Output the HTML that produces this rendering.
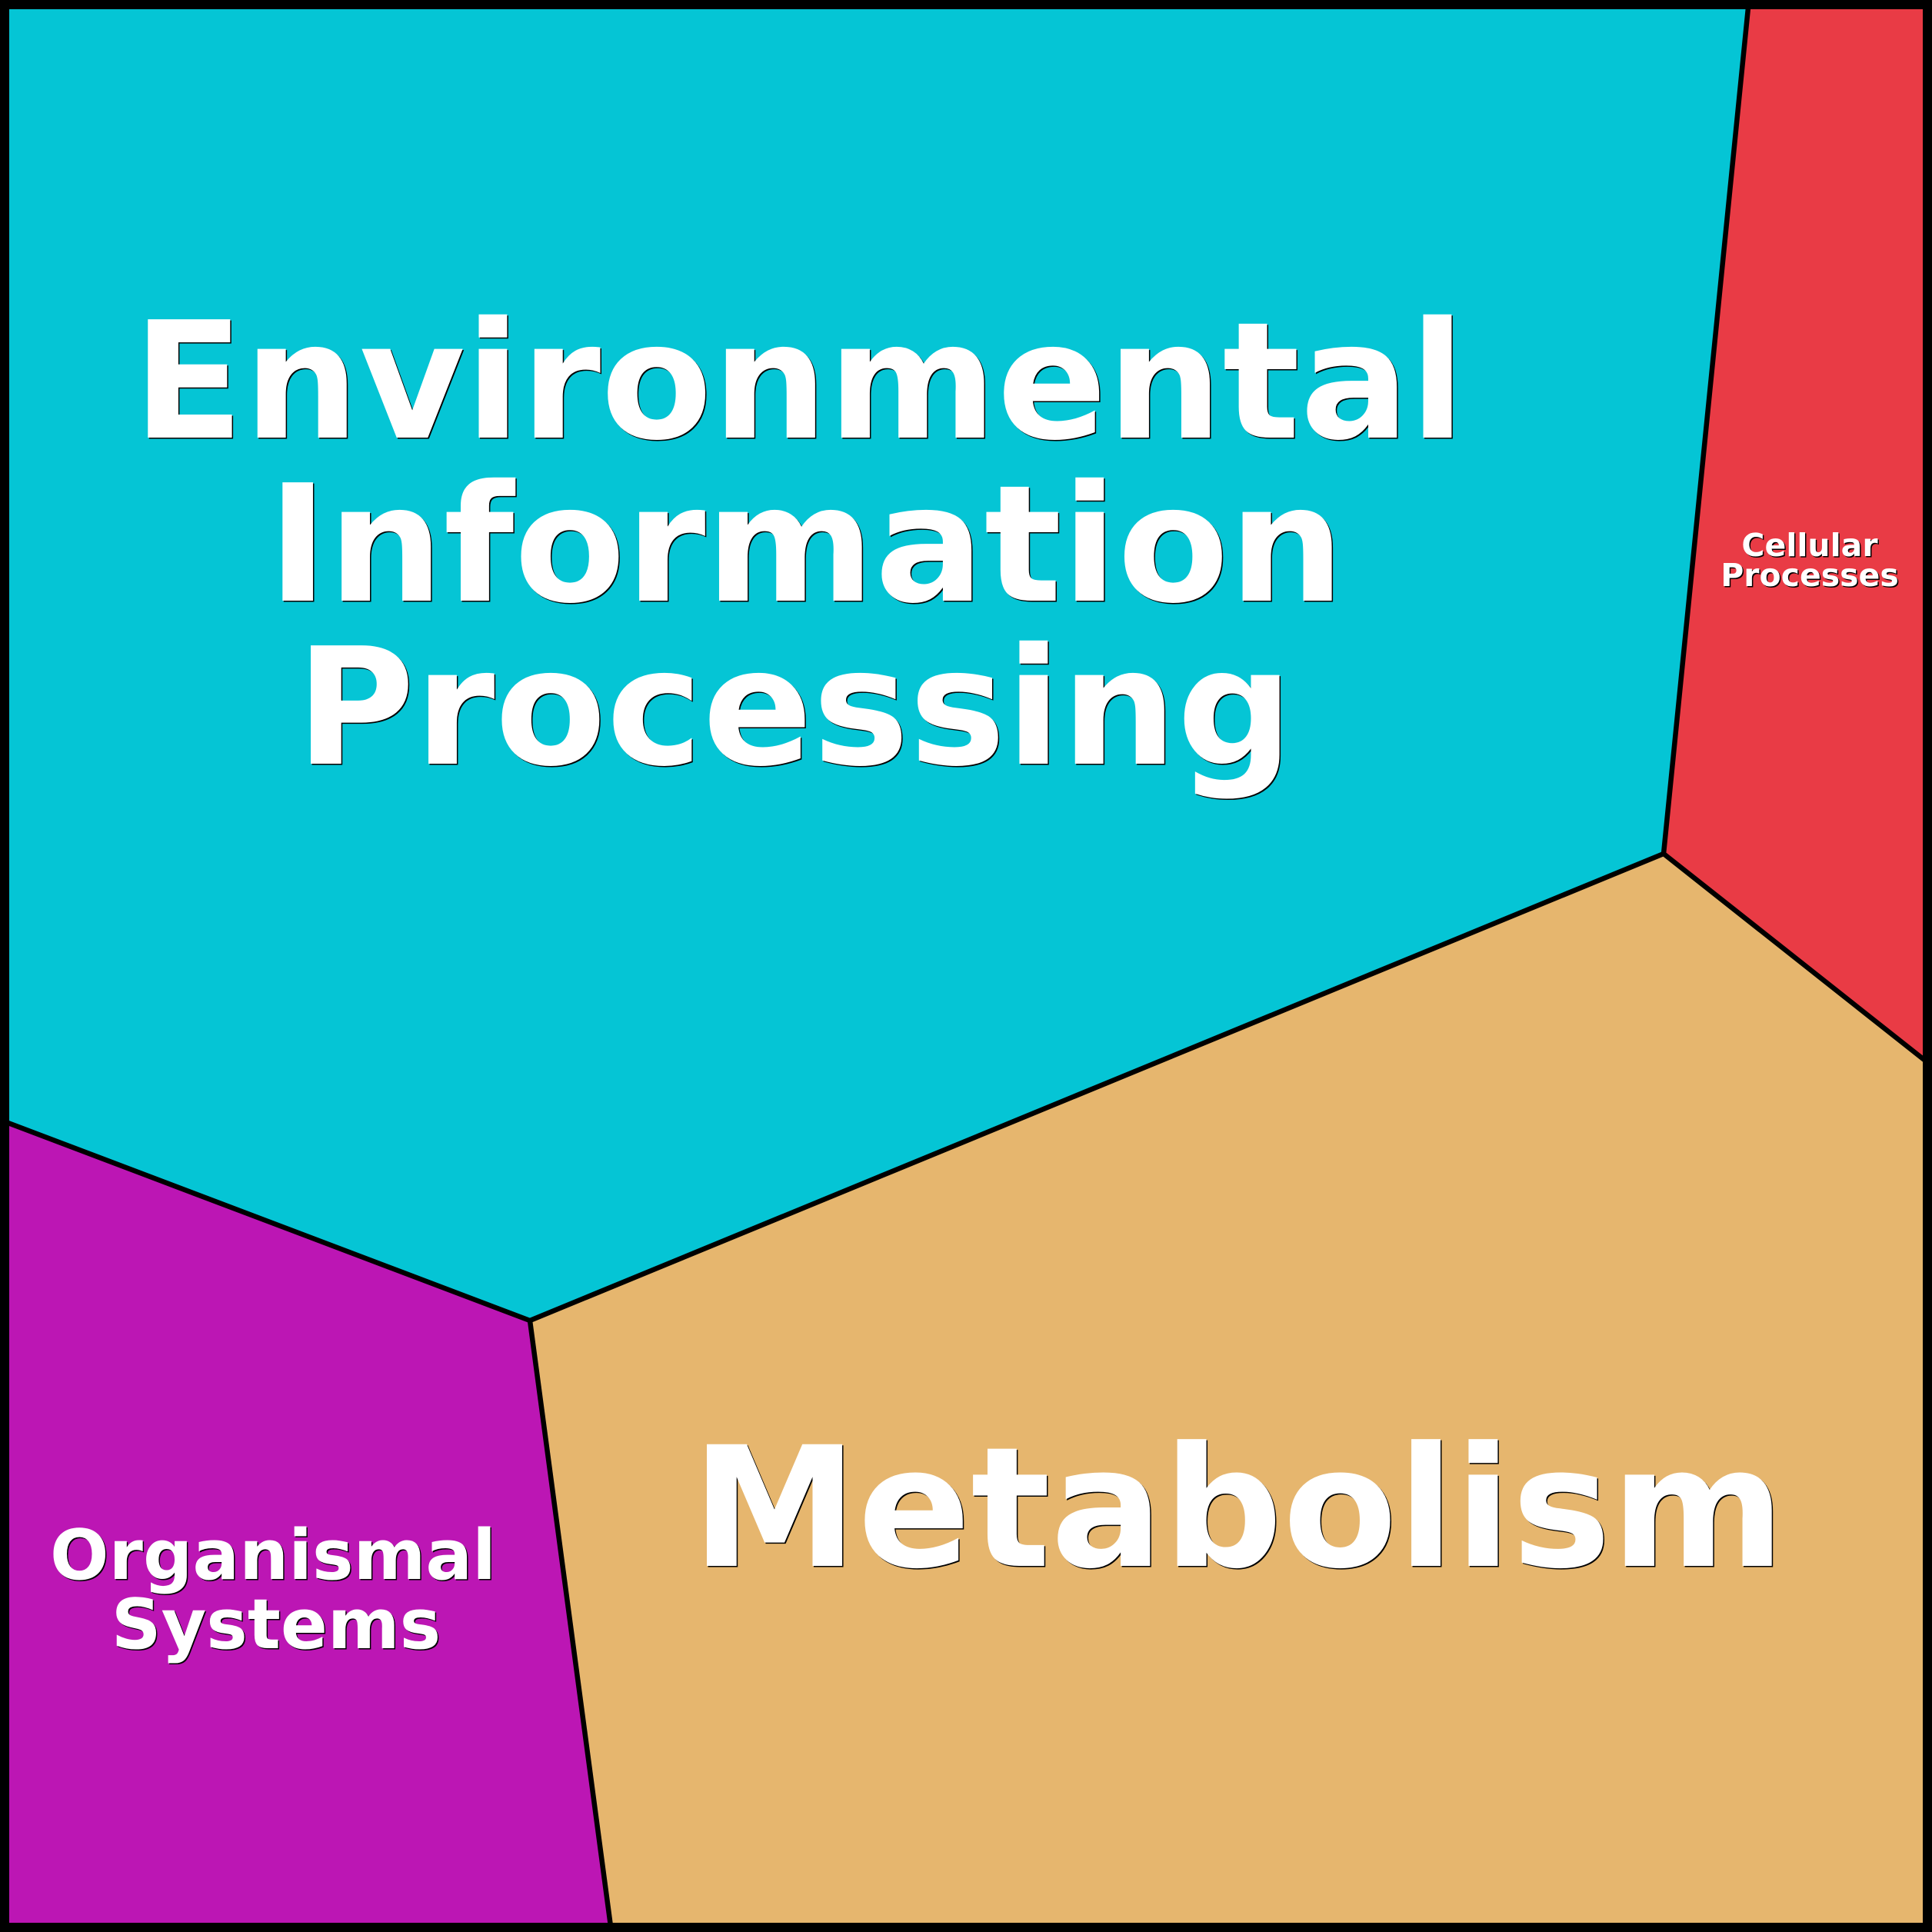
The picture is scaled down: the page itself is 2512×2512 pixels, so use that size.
<!DOCTYPE html>
<html><head><meta charset="utf-8"><style>
html,body{margin:0;padding:0;background:#fff;}
svg{display:block;}
text{font-family:"DejaVu Sans","Liberation Sans",sans-serif;font-weight:bold;}
</style></head><body>
<svg width="2512" height="2512" viewBox="0 0 2512 2512" xmlns="http://www.w3.org/2000/svg">
<polygon points="0,0 2274,0 2163,1110 689,1717 0,1456" fill="#05C5D5"/>
<polygon points="2274,0 2512,0 2512,1386 2163,1110" fill="#E93B45"/>
<polygon points="2163,1110 2512,1386 2512,2512 795,2512 689,1717" fill="#E6B66E"/>
<polygon points="0,1456 689,1717 795,2512 0,2512" fill="#BC16B4"/>
<g stroke="#000" stroke-width="6.5" fill="none" stroke-linejoin="round">
<polyline points="2274,0 2163,1110 2512,1386"/>
<polyline points="2163,1110 689,1717 0,1456"/>
<polyline points="689,1717 795,2512"/>
</g>
<rect x="6" y="6" width="2500" height="2500" fill="none" stroke="#000" stroke-width="12"/>
<g text-anchor="middle" fill="#000" transform="translate(1.5,1.5)">
<text x="1039" y="569" font-size="211">Environmental</text>
<text x="1048" y="781" font-size="211">Information</text>
<text x="1033" y="993" font-size="211">Processing</text>
<text x="1610" y="2036" font-size="217">Metabolism</text>
<text x="355" y="2053" font-size="90">Organismal</text>
<text x="359" y="2143" font-size="90">Systems</text>
<text x="2353" y="723" font-size="41">Cellular</text>
<text x="2353" y="762" font-size="41">Processes</text>
</g>
<g text-anchor="middle" fill="#fff">
<text x="1039" y="569" font-size="211">Environmental</text>
<text x="1048" y="781" font-size="211">Information</text>
<text x="1033" y="993" font-size="211">Processing</text>
<text x="1610" y="2036" font-size="217">Metabolism</text>
<text x="355" y="2053" font-size="90">Organismal</text>
<text x="359" y="2143" font-size="90">Systems</text>
<text x="2353" y="723" font-size="41">Cellular</text>
<text x="2353" y="762" font-size="41">Processes</text>
</g>
</svg>
</body></html>
